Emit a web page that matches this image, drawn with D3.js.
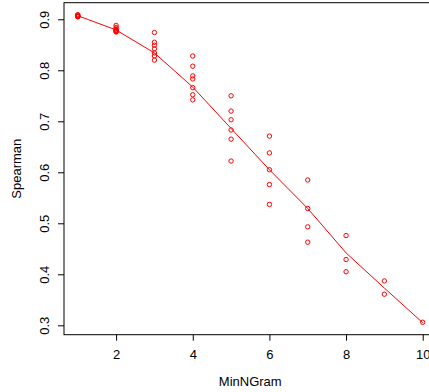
<!DOCTYPE html>
<html><head><meta charset="utf-8">
<script src="https://cdn.jsdelivr.net/npm/d3@7/dist/d3.min.js"></script>
<style>body{margin:0;background:#fff}svg{display:block}text{font-family:"Liberation Sans",Arial,sans-serif}</style>
</head><body>
<script>
const minNGram = [1,1,1,1,1,1, 2,2,2,2,2,2,2,2, 3,3,3,3,3,3,3, 4,4,4,4,4,4,4, 5,5,5,5,5,5, 6,6,6,6,6, 7,7,7,7, 8,8,8, 9,9, 10];
const spearman = [0.909,0.908,0.907,0.906,0.905,0.905,
  0.888,0.884,0.881,0.879,0.878,0.877,0.876,0.875,
  0.874,0.855,0.849,0.842,0.834,0.828,0.820,
  0.828,0.808,0.789,0.783,0.766,0.752,0.742,
  0.750,0.720,0.703,0.683,0.665,0.622,
  0.671,0.638,0.605,0.576,0.537,
  0.585,0.529,0.493,0.463,
  0.476,0.429,0.405,
  0.387,0.361,
  0.306];
const fitX = [1,2,3,4,5,6,7,8,9,10];
const fitY = [0.907,0.879,0.834,0.767,0.686,0.605,0.529,0.442,0.373,0.305];
const xTicks = [2,4,6,8,10];
const yTicks = [0.3,0.4,0.5,0.6,0.7,0.8,0.9];

const W = 429, H = 392;
const L = 64, T = 2.7, B = 334.7, R = 436.5;
const svg = d3.select("body").append("svg").attr("width", W).attr("height", H);
const x = d3.scaleLinear().domain([0.64, 10.36]).range([L, R]);
const y = d3.scaleLinear().domain([0.2816, 0.9325]).range([B, T]);

// box
svg.append("rect").attr("x", L).attr("y", T).attr("width", R - L).attr("height", B - T)
  .attr("fill", "none").attr("stroke", "#000").attr("stroke-width", 1);

// x axis
const gx = svg.append("g").attr("transform", `translate(0,${B})`)
  .call(d3.axisBottom(x).tickValues(xTicks).tickSize(6).tickFormat(d3.format("d")));
gx.select(".domain").remove();
gx.selectAll("line").attr("stroke", "#000");
gx.selectAll("text").attr("y", 24).attr("dy", 0).attr("font-size", 13).attr("fill", "#000")
  .attr("font-family", "Liberation Sans, Arial, sans-serif");

// y axis
const gy = svg.append("g").attr("transform", `translate(${L},0)`)
  .call(d3.axisLeft(y).tickValues(yTicks).tickSize(6).tickFormat(d3.format(".1f")));
gy.select(".domain").remove();
gy.selectAll("line").attr("stroke", "#000");
gy.selectAll("text").attr("x", null).attr("dy", null).attr("text-anchor", "middle")
  .attr("transform", `translate(-15,0) rotate(-90)`).attr("font-size", 13).attr("fill", "#000")
  .attr("font-family", "Liberation Sans, Arial, sans-serif");

// titles
svg.append("text").attr("x", (L + R) / 2).attr("y", 386).attr("text-anchor", "middle")
  .attr("font-size", 13).text("MinNGram");
svg.append("text").attr("transform", `translate(21,${(T + B) / 2}) rotate(-90)`)
  .attr("text-anchor", "middle").attr("font-size", 13).text("Spearman");

// fit line
svg.append("path").datum(fitX.map((d, i) => [d, fitY[i]]))
  .attr("d", d3.line().x(d => x(d[0])).y(d => y(d[1])))
  .attr("fill", "none").attr("stroke", "#ff0000").attr("stroke-width", 1);

// points
svg.append("g").selectAll("circle").data(minNGram.map((d, i) => [d, spearman[i]])).join("circle")
  .attr("cx", d => x(d[0])).attr("cy", d => y(d[1])).attr("r", 2.2)
  .attr("fill", "none").attr("stroke", "#ff0000").attr("stroke-width", 1);
</script>
</body></html>
